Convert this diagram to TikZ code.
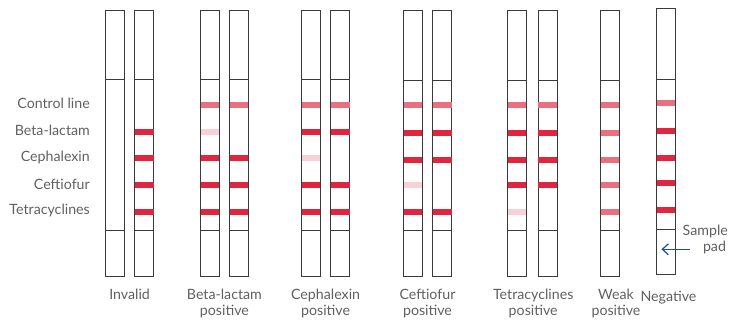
\documentclass[tikz,border=0pt]{standalone}
\usepackage{fontspec}
\setmainfont{Lato}
\usetikzlibrary{arrows.meta}
\definecolor{txt}{HTML}{606060}
\definecolor{edge}{HTML}{3A3A3A}
\definecolor{rd}{HTML}{E0263E}
\definecolor{md}{HTML}{E8707F}
\definecolor{ft}{HTML}{F8D0D6}
\definecolor{arr}{HTML}{1F5085}
\tikzset{
  stripbox/.style={draw=edge, line width=0.9pt, minimum width=19pt, inner sep=0pt, fill=white},
  band/.style={fill=#1, draw=none},
  lab/.style={text=txt, font=\fontsize{14.2}{16}\selectfont, inner sep=0pt},
  caption/.style={lab, align=center, anchor=north},
}
% \mystrip{name}{xcenter}{top}{bottom}{div1}{div2}{list y/color}
\newcommand\mystrip[7]{%
  \node[stripbox, minimum height=#4-#3, anchor=north] (#1) at (#2,#3) {};
  \foreach \yy/\cc in {#7} {\fill[band=\cc] (#2-9.2,\yy-3) rectangle (#2+9.2,\yy+3);}
  \draw[edge, line width=0.9pt] (#1.west |- 0,#5) -- (#1.east |- 0,#5);
  \draw[edge, line width=0.9pt] (#1.west |- 0,#6) -- (#1.east |- 0,#6);
}
\begin{document}
\begin{tikzpicture}[x=1pt,y=-1pt]
\useasboundingbox (0,0) rectangle (731,320);
% Invalid
\mystrip{s1}{115}{10}{276}{79.3}{230}{}
\mystrip{s2}{144.3}{10}{276}{79.3}{230}{131.7/rd,158.3/rd,185/rd,211.7/rd}
% Beta-lactam positive
\mystrip{s3}{209.8}{10}{276}{79.3}{230}{105/md,131.7/ft,158.3/rd,185/rd,211.7/rd}
\mystrip{s4}{238.9}{10}{276}{79.3}{230}{105/md,158.3/rd,185/rd,211.7/rd}
% Cephalexin positive
\mystrip{s5}{311}{10}{276}{79.3}{230}{105/md,131.7/rd,158.3/ft,185/rd,211.7/rd}
\mystrip{s6}{340.3}{10}{276}{79.3}{230}{105/md,131.7/rd,185/rd,211.7/rd}
% Ceftiofur positive
\mystrip{s7}{412.7}{10}{276}{80.7}{230}{105/md,133/rd,159.7/rd,185/ft,211.7/rd}
\mystrip{s8}{442.3}{10}{276}{80.7}{230}{105/md,133/rd,159.7/rd,211.7/rd}
% Tetracyclines positive
\mystrip{s9}{517}{10}{276}{80.7}{230}{105/md,133/rd,159.7/rd,185/rd,211.7/ft}
\mystrip{s10}{547.5}{10}{276}{80.7}{230}{105/md,133/rd,159.7/rd,185/rd}
% Weak positive
\mystrip{s11}{610}{10}{276}{80.7}{230}{105/md,133/md,159.7/md,185/md,211.7/md}
% Negative
\mystrip{s12}{666.2}{8.3}{274.3}{79.3}{229.3}{103.3/md,131/rd,157.7/rd,183.3/rd,210/rd}
% left labels
\node[lab, anchor=east] (l1) at (90,103.5) {Control line};
\node[lab, anchor=east] (l2) at (90,130.5) {Beta-lactam};
\node[lab, anchor=east] (l3) at (90,157) {Cephalexin};
\node[lab, anchor=east] (l4) at (90,184) {Ceftiofur};
\node[lab, anchor=east] (l5) at (90,210.5) {Tetracyclines};
% captions
\node[caption] (c1) at (129.6,289) {Invalid};
\node[caption] (c2) at (224.4,289) {Beta-lactam\\positive};
\node[caption] (c3) at (325.6,289) {Cephalexin\\positive};
\node[caption] (c4) at (427.5,289) {Ceftiofur\\positive};
\node[caption] (c5) at (533.2,289) {Tetracyclines\\positive};
\node[caption] (c6) at (616,289) {Weak\\positive};
\node[caption] (c7) at (668.5,291) {Negative};
% sample pad
\node[lab, align=center, anchor=north west] (sp) at (682.5,225) {Sample\\\hspace*{1.3em}pad};
\coordinate (ae) at (661.5,249.3);
\draw[arr, line width=1.2pt, -{Straight Barb[length=6pt,width=11pt,line width=1.2pt]}] (690,249.3) -- (ae);
\end{tikzpicture}
\end{document}
